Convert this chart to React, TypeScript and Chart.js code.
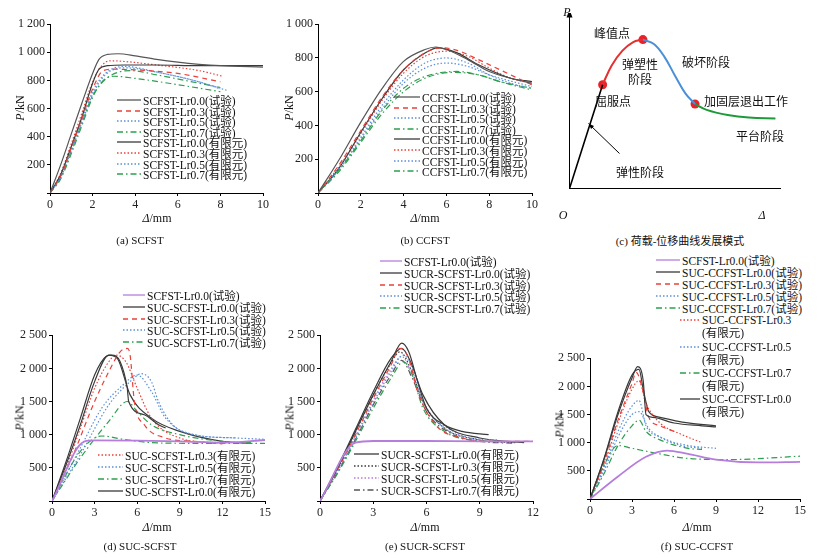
import React, { useEffect, useRef } from "react";
import { Chart, registerables } from "chart.js";
Chart.register(...registerables);

type Pt = [number, number];
const RED = "#e8413b", BLUE = "#5b8fd8", GREEN = "#2e9e4f", BLACK = "#3a3a3a", PURPLE = "#b57edc", GRAY = "#555";
const DASH: Record<string, number[]> = { solid: [], dashed: [5, 4], dotted: [1.5, 2], dashdot: [6, 3, 1.5, 3] };

// (a) SCFST
const aT00: Pt[] = [[0,0],[0.5,200],[1,420],[1.5,640],[2,850],[2.3,950],[2.7,985],[3.2,990],[4,975],[5,950],[6,930],[7,915],[8,905],[10,895]];
const aT03: Pt[] = [[0,0],[0.5,120],[1,320],[1.5,530],[2,740],[2.5,870],[3,880],[4,875],[6,850],[8,790]];
const aT05: Pt[] = [[0,0],[0.5,110],[1,300],[1.5,500],[2,700],[2.6,840],[3.5,890],[5,860],[7,790],[8.3,730]];
const aT07: Pt[] = [[0,0],[0.5,100],[1,280],[1.5,480],[2,680],[2.5,800],[3,830],[4,815],[6,770],[8,720]];
const aF00: Pt[] = [[0,0],[0.5,130],[1,330],[1.5,540],[2,780],[2.3,880],[2.7,905],[3.5,910],[5,910],[7,905],[10,905]];
const aF03: Pt[] = [[0,0],[0.5,140],[1,350],[1.5,570],[2,790],[2.4,900],[2.8,940],[3.5,935],[5,910],[7,870],[8.1,830]];
const aF05: Pt[] = [[0,0],[0.5,120],[1,320],[1.5,520],[2,720],[2.6,850],[3.5,900],[5,860],[7,790],[8,740]];
const aF07: Pt[] = [[0,0],[0.5,110],[1,300],[1.5,500],[2,690],[2.7,820],[3.8,870],[5,840],[7,780],[8,750]];
// (b) CCFST
const bT00: Pt[] = [[0,0],[1,200],[2,420],[3,620],[4,780],[5,850],[5.5,865],[6,850],[7,790],[8,720],[9,680],[10,650]];
const bT03: Pt[] = [[0,0],[1,170],[2,370],[3,570],[4,730],[5,830],[5.8,860],[6.5,845],[7.5,790],[9,700],[10,640]];
const bT05: Pt[] = [[0,0],[1,150],[2,330],[3,520],[4,670],[5,770],[6,800],[7,770],[8,700],[9,650],[10,620]];
const bT07: Pt[] = [[0,0],[1,140],[2,310],[3,490],[4,620],[5,690],[6.5,720],[7.5,700],[8.5,660],[10,610]];
const bF00: Pt[] = [[0,0],[1,150],[2,360],[3,560],[4,730],[5,830],[5.6,860],[6.5,830],[7.5,760],[9,680],[10,660]];
const bF03: Pt[] = [[0,0],[1,160],[2,350],[3,550],[4,710],[5,810],[6,840],[7,810],[8,740],[9,680],[10,650]];
const bF05: Pt[] = [[0,0],[1,140],[2,320],[3,500],[4,650],[5,740],[6,770],[7,750],[8,700],[10,630]];
const bF07: Pt[] = [[0,0],[1,130],[2,300],[3,470],[4,600],[5,680],[6.3,715],[7.5,700],[8.5,660],[10,620]];
// (c) schematic
const cElastic: Pt[] = [[0,0],[1.57,6.07]];
const cPlastic: Pt[] = [[1.57,6.07],[2,7.2],[2.5,8.05],[3,8.55],[3.48,8.71]];
const cFailure: Pt[] = [[3.48,8.71],[4,8.45],[4.5,7.7],[5,6.6],[5.5,5.55],[5.95,4.94]];
const cPlateau: Pt[] = [[5.95,4.94],[6.5,4.6],[7.5,4.3],[8.5,4.15],[9.76,4.1]];
const cDots: Pt[] = [[1.57,6.07],[3.48,8.71],[5.95,4.94]];
// (d) SUC-SCFST
const dRef: Pt[] = [[0,0],[2.3,900],[3,915],[6,910],[9,900],[12,880],[15,920]];
const dT00: Pt[] = [[0,0],[1,600],[2,1250],[3,1900],[3.8,2180],[4.2,2200],[4.8,2100],[5.3,1700],[5.4,1500],[6.5,1300],[7.5,1150],[8,1100]];
const dT03: Pt[] = [[0,0],[1.5,700],[3,1500],[4,1950],[4.8,2250],[5.3,2300],[5.5,2200],[5.8,1500],[6.5,1150],[8,950],[10,900],[12,860]];
const dT05: Pt[] = [[0,0],[2,700],[4,1450],[5.5,1800],[6.3,1920],[7,1800],[7.5,1500],[8.5,1150],[10,1000],[13,950],[15,930]];
const dT07: Pt[] = [[0,0],[2,650],[4,1200],[5.3,1500],[6,1350],[7,1150],[9,1000],[12,900],[14,880]];
const dF03: Pt[] = [[0,0],[1,500],[2,1100],[3,1700],[4,2100],[4.5,2200],[5.2,2100],[6,1700],[7,1250],[9,950],[12,870]];
const dF05: Pt[] = [[0,0],[2,800],[3.5,1400],[5,1750],[6,1900],[7,1650],[8,1250],[10,1000],[13,950]];
const dF07: Pt[] = [[0,0],[2,750],[3.5,980],[5,930],[7,880],[10,870],[15,870]];
const dF00: Pt[] = [[0,0],[1,550],[2,1150],[3,1800],[4,2200],[4.6,2150],[5.5,1600],[7,1250],[9,1050],[12,900],[14,870]];
// (e) SUCR-SCFST
const eRef: Pt[] = [[0,0],[2,880],[3,905],[6,905],[9,900],[12,900]];
const eT00: Pt[] = [[0,0],[1,500],[2,1050],[3,1600],[4,2100],[4.6,2380],[5,2250],[5.5,1800],[6,1400],[7,1150],[8,1050],[9.5,1000]];
const eT03: Pt[] = [[0,0],[1,480],[2,1000],[3,1550],[4,2050],[4.5,2300],[5,2150],[5.5,1650],[6.5,1150],[8,950],[10,900],[12,900]];
const eT05: Pt[] = [[0,0],[1,450],[2,950],[3,1480],[4,1950],[4.7,2200],[5.2,2000],[5.8,1500],[7,1100],[8.5,950],[10,920]];
const eT07: Pt[] = [[0,0],[1,420],[2,900],[3,1400],[4,1850],[4.7,2100],[5.2,1900],[5.8,1400],[7,1050],[8.5,920],[10,900]];
const eF00: Pt[] = [[0,0],[1,520],[2,1080],[3,1650],[4,2150],[4.6,2300],[5.1,2100],[5.8,1600],[7,1150],[9,950],[11.5,880]];
const eF03: Pt[] = [[0,0],[1,500],[2,1040],[3,1600],[4,2080],[4.5,2250],[5.1,2000],[5.8,1500],[7,1100],[9,920],[11,880]];
const eF05: Pt[] = [[0,0],[1,470],[2,980],[3,1520],[4,1990],[4.6,2180],[5.2,1900],[6,1400],[7.5,1050],[9,920],[11,880]];
const eF07: Pt[] = [[0,0],[1,440],[2,930],[3,1450],[4,1900],[4.6,2120],[5.2,1850],[6,1350],[7.5,1000],[9,900],[11,870]];
// (f) SUC-CCFST
const fRef: Pt[] = [[0,0],[2,400],[4,750],[5.5,860],[7,800],[9,700],[12,650],[15,660]];
const fT00: Pt[] = [[0,0],[1,700],[2,1500],[3,2150],[3.4,2350],[3.8,2100],[4,1500],[4.5,1450],[6,1350],[8,1300],[9,1280]];
const fT03: Pt[] = [[0,0],[1,650],[2,1400],[3,2050],[3.3,2250],[3.7,2000],[4.2,1450],[5,1300],[6,1200]];
const fT05: Pt[] = [[0,0],[1,550],[2,1200],[3,1650],[3.5,1750],[4,1300],[5,1100],[6.5,950],[8,900]];
const fT07: Pt[] = [[0,0],[1,450],[2,950],[3,1300],[3.5,1400],[4,1200],[5,1050],[7,900],[8,880]];
const fF03: Pt[] = [[0,0],[1,600],[2,1350],[3,1950],[3.5,2100],[4,1700],[5,1350],[6.5,1150],[8,1000]];
const fF05: Pt[] = [[0,0],[1,500],[2,1100],[3,1500],[3.5,1550],[4.2,1250],[5.5,1050],[7,950],[9,900]];
const fF07: Pt[] = [[0,0],[1,600],[2,950],[3,900],[5,800],[7,720],[10,700],[15,760]];
const fF00: Pt[] = [[0,0],[1,720],[2,1550],[3,2200],[3.5,2300],[3.8,1950],[4.2,1550],[5,1450],[7,1350],[9,1300]];

type S = { d: Pt[]; c: string; s: string; w?: number };

const fmt = (v: number) => (v >= 1000 ? Math.floor(v / 1000) + " " + String(v % 1000).padStart(3, "0") : String(v));
const FONT = "'Liberation Serif', 'Noto Sans CJK SC', serif";

function Panel(p: { ax: number; ay: number; top: number; right: number; xMax: number; xStep: number; yMax: number; yStep: number; series: S[]; yMin0?: boolean }) {
  const ref = useRef<HTMLCanvasElement>(null);
  const L = 44, R = 12, T = 8, B = 20;
  const w = p.right - p.ax + L + R, h = p.ay - p.top + T + B;
  useEffect(() => {
    const ch = new Chart(ref.current!, {
      type: "line",
      data: { datasets: p.series.map((s) => ({ data: s.d.map(([x, y]) => ({ x, y })), borderColor: s.c, borderDash: DASH[s.s], borderWidth: s.w ?? 1.2, pointRadius: 0, cubicInterpolationMode: "monotone" as const, fill: false })) },
      options: {
        animation: false, responsive: false, maintainAspectRatio: false,
        layout: { padding: { top: T, right: R, left: 0, bottom: 0 } },
        plugins: { legend: { display: false }, tooltip: { enabled: false } },
        scales: {
          x: { type: "linear", min: 0, max: p.xMax, afterFit: (s: any) => { s.height = B; }, grid: { drawOnChartArea: false, tickLength: 3, color: "#000" }, border: { color: "#000" }, ticks: { stepSize: p.xStep, color: "#222", font: { family: FONT, size: 12 }, padding: 2 } },
          y: { min: 0, max: p.yMax, afterFit: (s: any) => { s.width = L; }, grid: { drawOnChartArea: false, tickLength: 3, color: "#000" }, border: { color: "#000" }, ticks: { stepSize: p.yStep, color: "#222", font: { family: FONT, size: 12 }, padding: 2, callback: (v: any) => (v === 0 ? "" : fmt(v)) } },
        },
      },
    });
    return () => ch.destroy();
  }, []);
  return <canvas ref={ref} width={w} height={h} style={{ position: "absolute", left: p.ax - L, top: p.top - T, width: w, height: h }} />;
}

function Leg(p: { x: number; y: number; lw: number; items: [S | null, string][]; dy: number }) {
  return (
    <>
      {p.items.map(([s, t], i) => (
        <div key={i} style={{ position: "absolute", left: p.x, top: p.y + i * p.dy - 7, height: 14, whiteSpace: "nowrap", font: `11.5px ${FONT}`, color: "#111", display: "flex", alignItems: "center" }}>
          <svg width={p.lw} height={6} style={{ marginRight: 2 }}>
            {s && <line x1={0} y1={3} x2={p.lw} y2={3} stroke={s.c} strokeWidth={1.3} strokeDasharray={DASH[s.s].join(" ")} />}
          </svg>
          {t}
        </div>
      ))}
    </>
  );
}

const Txt = (p: { x: number; y: number; t: React.ReactNode; size?: number; rot?: boolean }) => (
  <div style={{ position: "absolute", left: p.x, top: p.y, whiteSpace: "nowrap", font: `${p.size ?? 12}px ${FONT}`, color: "#111", transform: p.rot ? "translate(-50%,-50%) rotate(-90deg)" : "translate(-50%,-50%)" }}>{p.t}</div>
);
const PkN = <span><i>P</i>/kN</span>;
const Dmm = <span><i>Δ</i>/mm</span>;

function Schematic() {
  const ref = useRef<HTMLCanvasElement>(null);
  useEffect(() => {
    const mk = (d: Pt[], c: string, w = 2) => ({ data: d.map(([x, y]) => ({ x, y })), borderColor: c, borderWidth: w, pointRadius: 0, showLine: true, tension: 0.4, fill: false });
    const ch = new Chart(ref.current!, {
      type: "scatter",
      data: { datasets: [mk(cElastic, "#000", 1.6), mk(cPlastic, "#e53030"), mk(cFailure, "#4a90d9"), mk(cPlateau, "#1e9a3a"), { data: cDots.map(([x, y]) => ({ x, y })), pointRadius: 4.5, pointBackgroundColor: "#e8222a", pointBorderWidth: 0, showLine: false }] as any },
      options: {
        animation: false, responsive: false, maintainAspectRatio: false,
        layout: { padding: 0 },
        plugins: { legend: { display: false }, tooltip: { enabled: false } },
        scales: {
          x: { type: "linear", min: 0, max: 10, display: true, afterFit: (s: any) => { s.height = 0; }, grid: { display: false }, border: { color: "#000" }, ticks: { display: false } },
          y: { min: 0, max: 10, afterFit: (s: any) => { s.width = 0; }, grid: { display: false }, border: { color: "#000" }, ticks: { display: false } },
        },
      },
      plugins: [{ id: "arrows", afterDraw: (c: any) => {
        const g = c.ctx, a = c.chartArea; g.save(); g.fillStyle = "#000"; g.strokeStyle = "#000"; g.lineWidth = 1;
        g.beginPath(); g.moveTo(a.left, a.top - 8); g.lineTo(a.left - 3, a.top); g.lineTo(a.left + 3, a.top); g.fill();
        g.beginPath(); g.moveTo(a.left, a.top); g.lineTo(a.left, a.top); g.stroke();
        const ax = (x1: number, y1: number, x2: number, y2: number) => { g.beginPath(); g.moveTo(x1, y1); g.lineTo(x2, y2); g.stroke(); const an = Math.atan2(y2 - y1, x2 - x1); g.beginPath(); g.moveTo(x2, y2); g.lineTo(x2 - 6 * Math.cos(an - 0.35), y2 - 6 * Math.sin(an - 0.35)); g.lineTo(x2 - 6 * Math.cos(an + 0.35), y2 - 6 * Math.sin(an + 0.35)); g.fill(); };
        const X = (v: number) => c.scales.x.getPixelForValue(v), Y = (v: number) => c.scales.y.getPixelForValue(v);
        ax(a.left + 50, a.bottom - 35, X(0.9), Y(3.8));
        g.restore();
      } }],
    });
    return () => ch.destroy();
  }, []);
  return <canvas ref={ref} width={220} height={180} style={{ position: "absolute", left: 565, top: 13, width: 220, height: 180 }} />;
}

export default function App() {
  const aS = { t00: { d: aT00, c: GRAY, s: "solid" }, t03: { d: aT03, c: RED, s: "dashed" }, t05: { d: aT05, c: BLUE, s: "dotted" }, t07: { d: aT07, c: GREEN, s: "dashdot" }, f00: { d: aF00, c: BLACK, s: "solid" }, f03: { d: aF03, c: RED, s: "dotted" }, f05: { d: aF05, c: BLUE, s: "dotted" }, f07: { d: aF07, c: GREEN, s: "dashdot" } };
  const bS = { t00: { d: bT00, c: GRAY, s: "solid" }, t03: { d: bT03, c: RED, s: "dashed" }, t05: { d: bT05, c: BLUE, s: "dotted" }, t07: { d: bT07, c: GREEN, s: "dashdot" }, f00: { d: bF00, c: BLACK, s: "solid" }, f03: { d: bF03, c: RED, s: "dotted" }, f05: { d: bF05, c: BLUE, s: "dotted" }, f07: { d: bF07, c: GREEN, s: "dashdot" } };
  const dS = { r: { d: dRef, c: PURPLE, s: "solid", w: 1.8 }, t00: { d: dT00, c: BLACK, s: "solid" }, t03: { d: dT03, c: RED, s: "dashed" }, t05: { d: dT05, c: BLUE, s: "dotted" }, t07: { d: dT07, c: GREEN, s: "dashdot" }, f03: { d: dF03, c: RED, s: "dotted" }, f05: { d: dF05, c: BLUE, s: "dotted" }, f07: { d: dF07, c: GREEN, s: "dashdot" }, f00: { d: dF00, c: BLACK, s: "solid" } };
  const eS = { r: { d: eRef, c: PURPLE, s: "solid", w: 1.8 }, t00: { d: eT00, c: BLACK, s: "solid" }, t03: { d: eT03, c: RED, s: "dashed" }, t05: { d: eT05, c: BLUE, s: "dotted" }, t07: { d: eT07, c: GREEN, s: "dashdot" }, f00: { d: eF00, c: BLACK, s: "solid" }, f03: { d: eF03, c: BLACK, s: "dotted" }, f05: { d: eF05, c: PURPLE, s: "dotted" }, f07: { d: eF07, c: GRAY, s: "dashdot" } };
  const fS = { r: { d: fRef, c: PURPLE, s: "solid", w: 1.8 }, t00: { d: fT00, c: BLACK, s: "solid" }, t03: { d: fT03, c: RED, s: "dashed" }, t05: { d: fT05, c: BLUE, s: "dotted" }, t07: { d: fT07, c: GREEN, s: "dashdot" }, f03: { d: fF03, c: RED, s: "dotted" }, f05: { d: fF05, c: BLUE, s: "dotted" }, f07: { d: fF07, c: GREEN, s: "dashdot" }, f00: { d: fF00, c: BLACK, s: "solid" } };
  const v = (o: any) => Object.values(o) as S[];
  return (
    <div style={{ position: "fixed", left: 0, top: 0, width: 834, height: 558, background: "#fff", overflow: "hidden" }}>
      {/* (a) */}
      <Panel ax={50} ay={193} top={23} right={263} xMax={10} xStep={2} yMax={1200} yStep={200} series={v(aS)} />
      <Txt x={20} y={108} t={PkN} rot />
      <Txt x={157} y={218} t={Dmm} />
      <Txt x={140} y={240} t="(a)   SCFST" size={11} />
      <Leg x={117} y={100} lw={24} dy={10.6} items={[[aS.t00, "SCFST-Lr0.0(试验)"], [aS.t03, "SCFST-Lr0.3(试验)"], [aS.t05, "SCFST-Lr0.5(试验)"], [aS.t07, "SCFST-Lr0.7(试验)"], [aS.f00, "SCFST-Lr0.0(有限元)"], [aS.f03, "SCFST-Lr0.3(有限元)"], [aS.f05, "SCFST-Lr0.5(有限元)"], [aS.f07, "SCFST-Lr0.7(有限元)"]]} />
      {/* (b) */}
      <Panel ax={318} ay={193} top={23} right={532} xMax={10} xStep={2} yMax={1000} yStep={200} series={v(bS)} />
      <Txt x={289} y={108} t={PkN} rot />
      <Txt x={425} y={218} t={Dmm} />
      <Txt x={425} y={240} t="(b)   CCFST" size={11} />
      <Leg x={394} y={97} lw={26} dy={10.6} items={[[bS.t00, "CCFST-Lr0.0(试验)"], [bS.t03, "CCFST-Lr0.3(试验)"], [bS.t05, "CCFST-Lr0.5(试验)"], [bS.t07, "CCFST-Lr0.7(试验)"], [bS.f00, "CCFST-Lr0.0(有限元)"], [bS.f03, "CCFST-Lr0.3(有限元)"], [bS.f05, "CCFST-Lr0.5(有限元)"], [bS.f07, "CCFST-Lr0.7(有限元)"]]} />
      {/* (c) */}
      <Schematic />
      <Txt x={567} y={12} t={<i>P</i>} />
      <Txt x={563} y={215} t={<i>O</i>} />
      <Txt x={762} y={215} t={<i>Δ</i>} />
      <Txt x={612} y={33} t="峰值点" size={12} />
      <Txt x={640} y={64} t="弹塑性" size={12} />
      <Txt x={640} y={79} t="阶段" size={12} />
      <Txt x={613} y={101} t="屈服点" size={12} />
      <Txt x={706} y={62} t="破坏阶段" size={12} />
      <Txt x={746} y={101} t="加固层退出工作" size={12} />
      <Txt x={760} y={136} t="平台阶段" size={12} />
      <Txt x={640} y={172} t="弹性阶段" size={12} />
      <Txt x={680} y={240} t="(c)   荷载-位移曲线发展模式" size={11} />
      {/* (d) */}
      <Panel ax={52} ay={501} top={334} right={265} xMax={15} xStep={3} yMax={2500} yStep={500} series={v(dS)} />
      <Txt x={20} y={418} t={PkN} rot />
      <Txt x={157} y={527} t={Dmm} />
      <Txt x={140} y={546} t="(d)   SUC-SCFST" size={11} />
      <Leg x={123} y={295} lw={22} dy={11.8} items={[[dS.r, "SCFST-Lr0.0(试验)"], [dS.t00, "SUC-SCFST-Lr0.0(试验)"], [dS.t03, "SUC-SCFST-Lr0.3(试验)"], [dS.t05, "SUC-SCFST-Lr0.5(试验)"], [dS.t07, "SUC-SCFST-Lr0.7(试验)"]]} />
      <Leg x={98} y={455} lw={25} dy={12} items={[[dS.f03, "SUC-SCFST-Lr0.3(有限元)"], [dS.f05, "SUC-SCFST-Lr0.5(有限元)"], [dS.f07, "SUC-SCFST-Lr0.7(有限元)"], [dS.f00, "SUC-SCFST-Lr0.0(有限元)"]]} />
      {/* (e) */}
      <Panel ax={320} ay={501} top={334} right={533} xMax={12} xStep={3} yMax={2500} yStep={500} series={v(eS)} />
      <Txt x={290} y={418} t={PkN} rot />
      <Txt x={425} y={527} t={Dmm} />
      <Txt x={425} y={546} t="(e)   SUCR-SCFST" size={11} />
      <Leg x={380} y={261} lw={22} dy={11.8} items={[[eS.r, "SCFST-Lr0.0(试验)"], [eS.t00, "SUCR-SCFST-Lr0.0(试验)"], [eS.t03, "SUCR-SCFST-Lr0.3(试验)"], [eS.t05, "SUCR-SCFST-Lr0.5(试验)"], [eS.t07, "SUCR-SCFST-Lr0.7(试验)"]]} />
      <Leg x={354} y={454} lw={25} dy={12} items={[[eS.f00, "SUCR-SCFST-Lr0.0(有限元)"], [eS.f03, "SUCR-SCFST-Lr0.3(有限元)"], [eS.f05, "SUCR-SCFST-Lr0.5(有限元)"], [eS.f07, "SUCR-SCFST-Lr0.7(有限元)"]]} />
      {/* (f) */}
      <Panel ax={590} ay={499} top={357} right={800} xMax={15} xStep={3} yMax={2500} yStep={500} series={v(fS)} />
      <Txt x={560} y={425} t={PkN} rot />
      <Txt x={697} y={527} t={Dmm} />
      <Txt x={697} y={546} t="(f)   SUC-CCFST" size={11} />
      <Leg x={656} y={260} lw={24} dy={12} items={[[fS.r, "SCFST-Lr0.0(试验)"], [fS.t00, "SUC-CCFST-Lr0.0(试验)"], [fS.t03, "SUC-CCFST-Lr0.3(试验)"], [fS.t05, "SUC-CCFST-Lr0.5(试验)"], [fS.t07, "SUC-CCFST-Lr0.7(试验)"]]} />
      <Leg x={680} y={320} lw={20} dy={12} items={[[fS.f03, "SUC-CCFST-Lr0.3"], [null, "(有限元)"]]} />
      <Leg x={680} y={347} lw={20} dy={12} items={[[fS.f05, "SUC-CCFST-Lr0.5"], [null, "(有限元)"]]} />
      <Leg x={680} y={373} lw={20} dy={12} items={[[fS.f07, "SUC-CCFST-Lr0.7"], [null, "(有限元)"]]} />
      <Leg x={680} y={399} lw={20} dy={12} items={[[fS.f00, "SUC-CCFST-Lr0.0"], [null, "(有限元)"]]} />
    </div>
  );
}
